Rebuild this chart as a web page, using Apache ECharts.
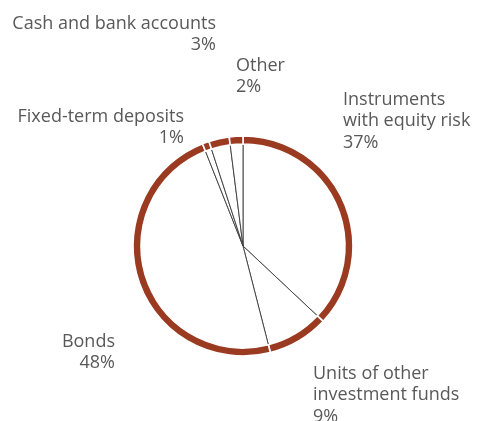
<!DOCTYPE html>
<html>
<head>
<meta charset="utf-8">
<script src="https://cdn.jsdelivr.net/npm/echarts@6/dist/echarts.min.js"></script>
<style>
  html, body { margin: 0; padding: 0; background: #fff; }
  #main { width: 478px; height: 421px; }
</style>
</head>
<body>
<div id="main"></div>
<script>
// slices, clockwise from 12 o'clock
var names = ['Instruments\nwith equity risk', 'Units of other\ninvestment funds', 'Bonds',
             'Fixed-term deposits', 'Cash and bank accounts', 'Other'];
var values = [37, 9, 48, 1, 3, 2];

// where each label sits (top-left or top-right corner of the text block)
var labelSpots = [
  { x: 343, y: 89, align: 'left' },
  { x: 313, y: 363, align: 'left' },
  { x: 115, y: 331, align: 'right' },
  { x: 184, y: 106, align: 'right' },
  { x: 216, y: 13, align: 'right' },
  { x: 236, y: 55, align: 'left' }
];

var pieData = names.map(function (n, i) { return { name: n, value: values[i] }; });

var chart = echarts.init(document.getElementById('main'));

var option = {
  animation: false,
  series: [{
    // thin spokes from the centre
    type: 'pie',
    center: [243, 246],
    radius: [0, 103],
    silent: true,
    label: { show: false },
    labelLine: { show: false },
    itemStyle: { color: '#fff', borderColor: '#3a3a3a', borderWidth: 0.9 },
    data: pieData
  }, {
    // brown outer ring
    type: 'pie',
    center: [243, 246],
    radius: [102, 110],
    z: 3,
    silent: true,
    itemStyle: { color: '#9a3b21', borderColor: '#fff', borderWidth: 1.6 },
    labelLine: { show: false },
    label: {
      show: true,
      formatter: '{b}\n{c}%',
      fontFamily: 'Open Sans',
      fontSize: 18,
      lineHeight: 21.5,
      color: '#595959',
      overflow: 'none'
    },
    labelLayout: function (p) {
      var s = labelSpots[p.dataIndex];
      return { x: s.x, y: s.y, align: s.align, verticalAlign: 'top', width: 300 };
    },
    data: pieData
  }]
};

chart.setOption(option);
</script>
</body>
</html>
